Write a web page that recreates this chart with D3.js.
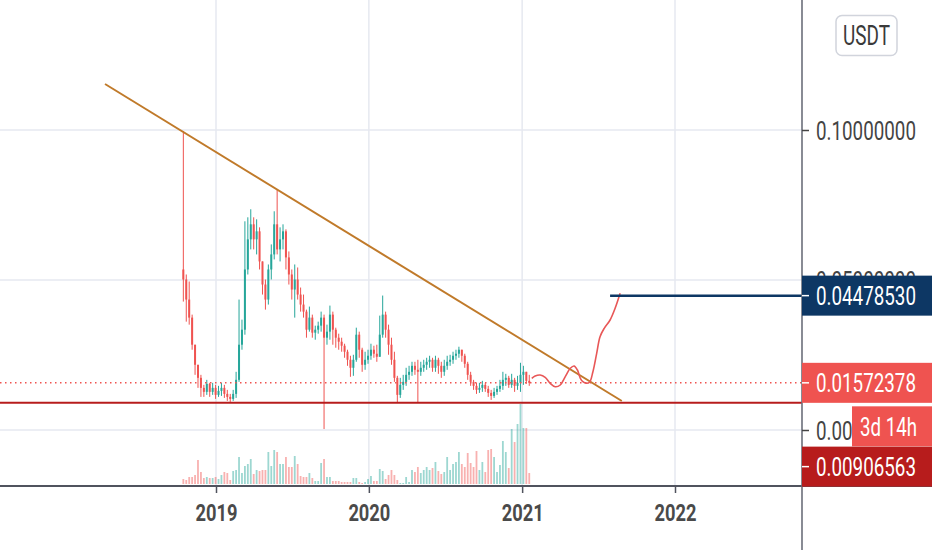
<!DOCTYPE html>
<html><head><meta charset="utf-8">
<script src="https://cdn.jsdelivr.net/npm/d3@7"></script>
<style>html,body{margin:0;padding:0;background:#fff;overflow:hidden}svg{display:block;font-family:Roboto,"Noto Sans",sans-serif}</style>
</head><body><svg id="c" width="932" height="550"></svg>
<script>
// ---- data (weekly candles, USDT) ----
const startWeek = "2018-10-15";
const firstOpen = 0.05351;
const closes = [0.05017,0.04348,0.03746,0.02843,0.02174,0.01739,0.01405,0.01271,0.01538,0.01271,
0.01405,0.01171,0.01304,0.01405,0.01204,0.01104,0.01037,0.01204,0.01672,0.02843,
0.03344,0.05351,0.06355,0.06856,0.06355,0.06622,0.05619,0.04849,0.04348,0.05351,
0.05853,0.06856,0.06020,0.06355,0.06622,0.05753,0.05184,0.04682,0.05017,0.04515,
0.04181,0.03946,0.03344,0.03746,0.03244,0.03344,0.03478,0.03746,0.03077,0.03278,
0.03846,0.03344,0.03077,0.02943,0.02809,0.02609,0.02341,0.02074,0.02341,0.03177,
0.02676,0.02174,0.02341,0.02475,0.02676,0.02542,0.02441,0.03177,0.03846,0.03344,
0.02843,0.02341,0.01739,0.01171,0.01505,0.01605,0.01839,0.01940,0.02140,0.02007,
0.01940,0.02074,0.02174,0.02274,0.02341,0.02074,0.02341,0.02140,0.01940,0.02140,
0.02274,0.02341,0.02475,0.02542,0.02676,0.02475,0.02207,0.01839,0.01605,0.01472,
0.01338,0.01405,0.01505,0.01371,0.01237,0.01137,0.01271,0.01371,0.01472,0.01672,
0.01739,0.01505,0.01672,0.01472,0.01572,0.01839,0.01940,0.01639,0.01572378];
const highs = [0.09967,0.05184,0.04950,0.03846,0.02843,0.02174,0.01839,0.01505,0.01672,0.01572,
0.01572,0.01505,0.01472,0.01572,0.01505,0.01338,0.01204,0.01338,0.01940,0.04348,
0.03679,0.06957,0.07090,0.07358,0.07090,0.07023,0.06756,0.05619,0.05017,0.05518,
0.06187,0.07291,0.08027,0.06756,0.06856,0.06689,0.05953,0.05351,0.05518,0.05418,
0.04749,0.04515,0.04013,0.04114,0.03846,0.03478,0.03612,0.03946,0.03846,0.03512,
0.04147,0.03946,0.03411,0.03211,0.03077,0.02876,0.02676,0.02475,0.02508,0.03411,
0.03278,0.02742,0.02609,0.02676,0.02876,0.02809,0.02843,0.03813,0.04482,0.03946,
0.03512,0.03077,0.02609,0.01806,0.01739,0.01839,0.02074,0.02140,0.02274,0.02274,
0.02341,0.02274,0.02341,0.02408,0.02475,0.02408,0.02475,0.02408,0.02274,0.02341,
0.02475,0.02508,0.02609,0.02676,0.02776,0.02676,0.02542,0.02274,0.01940,0.01672,
0.01572,0.01572,0.01639,0.01572,0.01472,0.01338,0.01405,0.01472,0.01672,0.01940,
0.01873,0.01806,0.01873,0.01739,0.01806,0.02241,0.02140,0.01940,0.01839];
const lows = [0.04281,0.03612,0.03512,0.02676,0.01839,0.01405,0.01104,0.01104,0.01171,0.01104,
0.01171,0.01037,0.01104,0.01137,0.01070,0.00970,0.00936,0.00970,0.01070,0.01605,
0.02676,0.03177,0.05184,0.06020,0.06020,0.05853,0.05351,0.04515,0.04013,0.04181,
0.05017,0.05686,0.05853,0.05619,0.06020,0.05351,0.04849,0.04348,0.03746,0.04348,
0.03946,0.03746,0.03077,0.03278,0.03077,0.03010,0.03211,0.03278,0.00033,0.02843,
0.03010,0.02843,0.02742,0.02676,0.02609,0.02408,0.02140,0.01773,0.01806,0.02274,
0.02408,0.01940,0.02007,0.02207,0.02341,0.02408,0.02274,0.02441,0.03077,0.03077,
0.02508,0.02174,0.01605,0.00907,0.01070,0.01338,0.01472,0.01672,0.01806,0.01839,
0.00910,0.01806,0.01940,0.02007,0.02074,0.01940,0.01940,0.01873,0.01739,0.01806,
0.02007,0.02140,0.02207,0.02341,0.02408,0.02274,0.02074,0.01672,0.01472,0.01338,
0.01204,0.01237,0.01271,0.01271,0.01104,0.01003,0.01070,0.01171,0.01271,0.01338,
0.01472,0.01405,0.01405,0.01271,0.01338,0.01271,0.01505,0.01538,0.01472];
const volumes = [5,4,7,7,9,24,12,6,7,6, 6,7,5,9,12,11,4,13,14,27,
11,18,20,25,10,14,13,14,14,32, 18,34,32,20,20,27,17,17,28,20,
8,7,7,11,6,3,3,21,25,7, 7,3,3,3,2,2,2,2,6,6,
2,1,2,5,8,3,3,15,13,5, 9,14,9,4,1,1,7,2,14,12,
17,11,14,17,14,16,22,13,10,12, 27,14,20,22,32,20,17,31,21,17,
33,14,22,12,34,35,27,12,19,43, 32,16,55,42,60,80,56,56,11];
const yearTicks = ["2019-01-01","2020-01-01","2021-01-01","2022-01-01"];
const yearLabels = ["2019","2020","2021","2022"];
const priceTicks = [0.1, 0.05, 0];
const trendDates = ["2018-04-11","2021-08-27"];
const trendPrices = [0.11533, 0.00967];
const drawDates = ["2021-01-24","2021-02-01","2021-02-13","2021-02-25","2021-03-09","2021-03-21","2021-04-02","2021-04-14","2021-04-26","2021-05-05","2021-05-13","2021-05-20","2021-05-26","2021-06-03","2021-06-11","2021-06-19","2021-06-28","2021-07-06","2021-07-16","2021-07-30","2021-08-11","2021-08-23"];
const drawPrices = [0.01723,0.0180,0.01833,0.01757,0.01557,0.01443,0.0150,0.01777,0.02057,0.02133,0.0200,0.01723,0.0161,0.01557,0.0159,0.01943,0.02557,0.0311,0.0339,0.03667,0.04057,0.04557];
const targetStart = "2021-07-30";
const targetPrice = 0.0447853;
const supportPrice = 0.00906563;
const lastPrice = 0.01572378;
const countdown = "3d 14h";
const currency = "USDT";

// ---- setup ----
const parse = d3.utcParse("%Y-%m-%d");
const svg = d3.select("#c");
const W = 932, H = 550, axisX = 802, paneB = 486;
const x = d3.scaleUtc().domain([parse("2019-01-01"), parse("2022-01-01")]).range([216, 675]);
const y = d3.scaleLinear().domain([0, 0.1]).range([430, 130]);
const vy = d3.scaleLinear().domain([0, 80]).range([484, 404]);
const fmt = d3.format(".8f");
const UP = "#26a69a", DN = "#ef5350";

// horizontally condense a text node to a target width (condensed look)
function squeeze(sel, w) {
  sel.each(function () {
    const n = this;
    const L = n.getComputedTextLength();
    const s = w / L;
    const x0 = +n.getAttribute("x") || 0, y0 = +n.getAttribute("y") || 0;
    n.setAttribute("x", 0); n.setAttribute("y", 0);
    n.setAttribute("transform", `translate(${x0},${y0}) scale(${s},1)`);
  });
}

svg.append("rect").attr("width", W).attr("height", H).attr("fill", "#fff");
svg.append("defs").append("clipPath").attr("id", "pane")
  .append("rect").attr("x", 0).attr("y", 0).attr("width", axisX).attr("height", paneB);

const pane = svg.append("g").attr("clip-path", "url(#pane)");

// grid
pane.selectAll(".gh").data(priceTicks).join("line")
  .attr("x1", 0).attr("x2", axisX).attr("y1", d => y(d)).attr("y2", d => y(d))
  .attr("stroke", "#e6e9f0").attr("stroke-width", 1.5);
pane.selectAll(".gv").data(yearTicks).join("line")
  .attr("x1", d => x(parse(d))).attr("x2", d => x(parse(d))).attr("y1", 0).attr("y2", paneB)
  .attr("stroke", "#e6e9f0").attr("stroke-width", 1.5);

const start = parse(startWeek);
const bars = closes.map((c, i) => {
  const o = i === 0 ? firstOpen : closes[i - 1];
  return { date: d3.utcDay.offset(start, i * 7), o, c, h: Math.max(highs[i], o, c), l: Math.min(lows[i], o, c), v: volumes[i], up: c >= o };
});

// volume
pane.selectAll(".vol").data(bars).join("rect")
  .attr("x", d => x(d.date) - 0.9).attr("width", 1.8)
  .attr("y", d => vy(d.v)).attr("height", d => vy(0) - vy(d.v))
  .attr("fill", d => d.up ? "rgba(38,166,154,0.45)" : "rgba(239,83,80,0.45)");

// candles
pane.selectAll(".wick").data(bars).join("rect")
  .attr("x", d => x(d.date) - 0.5).attr("width", 1)
  .attr("y", d => y(d.h)).attr("height", d => Math.max(1, y(d.l) - y(d.h)))
  .attr("fill", d => d.up ? UP : DN);
pane.selectAll(".body").data(bars).join("rect")
  .attr("x", d => x(d.date) - 1).attr("width", 2)
  .attr("y", d => y(Math.max(d.o, d.c))).attr("height", d => Math.max(1, Math.abs(y(d.o) - y(d.c))))
  .attr("fill", d => d.up ? UP : DN);

// last price dotted line
pane.append("line").attr("x1", 0).attr("x2", axisX).attr("y1", y(lastPrice)).attr("y2", y(lastPrice))
  .attr("stroke", DN).attr("stroke-width", 1.5).attr("stroke-dasharray", "1.5,3.5");
// support line
pane.append("line").attr("x1", 0).attr("x2", axisX).attr("y1", y(supportPrice)).attr("y2", y(supportPrice))
  .attr("stroke", "#b71c1c").attr("stroke-width", 2);
// trend line
pane.append("line")
  .attr("x1", x(parse(trendDates[0]))).attr("y1", y(trendPrices[0]))
  .attr("x2", x(parse(trendDates[1]))).attr("y2", y(trendPrices[1]))
  .attr("stroke", "#c07a2a").attr("stroke-width", 2);
// drawn projection
const pts = drawDates.map((d, i) => [x(parse(d)), y(drawPrices[i])]);
pane.append("path").attr("d", d3.line().curve(d3.curveCatmullRom.alpha(0.5))(pts))
  .attr("fill", "none").attr("stroke", "#e85757").attr("stroke-width", 1.6);
// target line
pane.append("line").attr("x1", x(parse(targetStart))).attr("x2", axisX)
  .attr("y1", y(targetPrice)).attr("y2", y(targetPrice))
  .attr("stroke", "#0d3764").attr("stroke-width", 2.5);

// pane bottom + axis line
svg.append("line").attr("x1", 0).attr("x2", W).attr("y1", paneB).attr("y2", paneB)
  .attr("stroke", "#50535e").attr("stroke-width", 2);
svg.append("line").attr("x1", axisX).attr("x2", axisX).attr("y1", 0).attr("y2", H)
  .attr("stroke", "#6b6f7a").attr("stroke-width", 1.6);

// x axis
const xa = svg.append("g").attr("transform", `translate(0,${paneB})`)
  .call(d3.axisBottom(x).tickValues(yearTicks.map(parse)).tickFormat((d, i) => yearLabels[i]).tickSize(7).tickPadding(0));
xa.select(".domain").remove();
xa.selectAll(".tick line").attr("stroke", "#50535e").attr("stroke-width", 1.5);
xa.selectAll(".tick text").attr("y", 34.5).attr("dy", 0).attr("fill", "#4a4a4a")
  .attr("font-size", 24.5).attr("font-weight", "bold").attr("font-family", "Roboto")
  .call(s => squeeze(s, 42));

// y axis
const ya = svg.append("g").attr("transform", `translate(${axisX},0)`)
  .call(d3.axisRight(y).tickValues(priceTicks).tickFormat(fmt).tickSize(7).tickPadding(7));
ya.select(".domain").remove();
ya.selectAll(".tick line").attr("stroke", "#444").attr("stroke-width", 1.5);
ya.selectAll(".tick text").attr("x", 14).attr("dy", "0.355em").attr("fill", "#444")
  .attr("font-size", 26).attr("font-family", "Roboto")
  .call(s => squeeze(s, 100));

// price labels
function priceLabel(cy, bg, txt, x0 = axisX, w = W - axisX, tx = 816, tl = 100, tick = true) {
  const g = svg.append("g");
  g.append("rect").attr("x", x0).attr("y", cy - 20).attr("width", w).attr("height", 40).attr("fill", bg);
  if (tick) g.append("line").attr("x1", axisX).attr("x2", axisX + 7).attr("y1", cy).attr("y2", cy)
    .attr("stroke", "#fff").attr("stroke-width", 1.5);
  g.append("text").attr("x", tx).attr("y", cy).attr("dy", "0.355em").attr("fill", "#fff")
    .attr("font-size", 26).attr("font-family", "Roboto").text(txt)
    .call(s => squeeze(s, tl));
}
priceLabel(y(targetPrice), "#0d3764", fmt(targetPrice));
priceLabel(y(lastPrice), "#ef5350", fmt(lastPrice));
priceLabel(y(lastPrice) + 43.5, "#ef5350", countdown, 852, 80, 860, 57, false);
priceLabel(y(lastPrice) + 83.8, "#b71c1c", fmt(supportPrice));

// currency button
svg.append("rect").attr("x", 836).attr("y", 15.5).attr("width", 61).attr("height", 40).attr("rx", 6)
  .attr("fill", "#fff").attr("stroke", "#d1d4dc").attr("stroke-width", 1.5);
svg.append("text").attr("x", 866.5).attr("y", 35.5).attr("dy", "0.355em").attr("text-anchor", "middle")
  .attr("fill", "#3a3a3a").attr("font-size", 27).attr("font-family", "Roboto").text(currency)
  .call(s => squeeze(s, 47));
</script></body></html>
